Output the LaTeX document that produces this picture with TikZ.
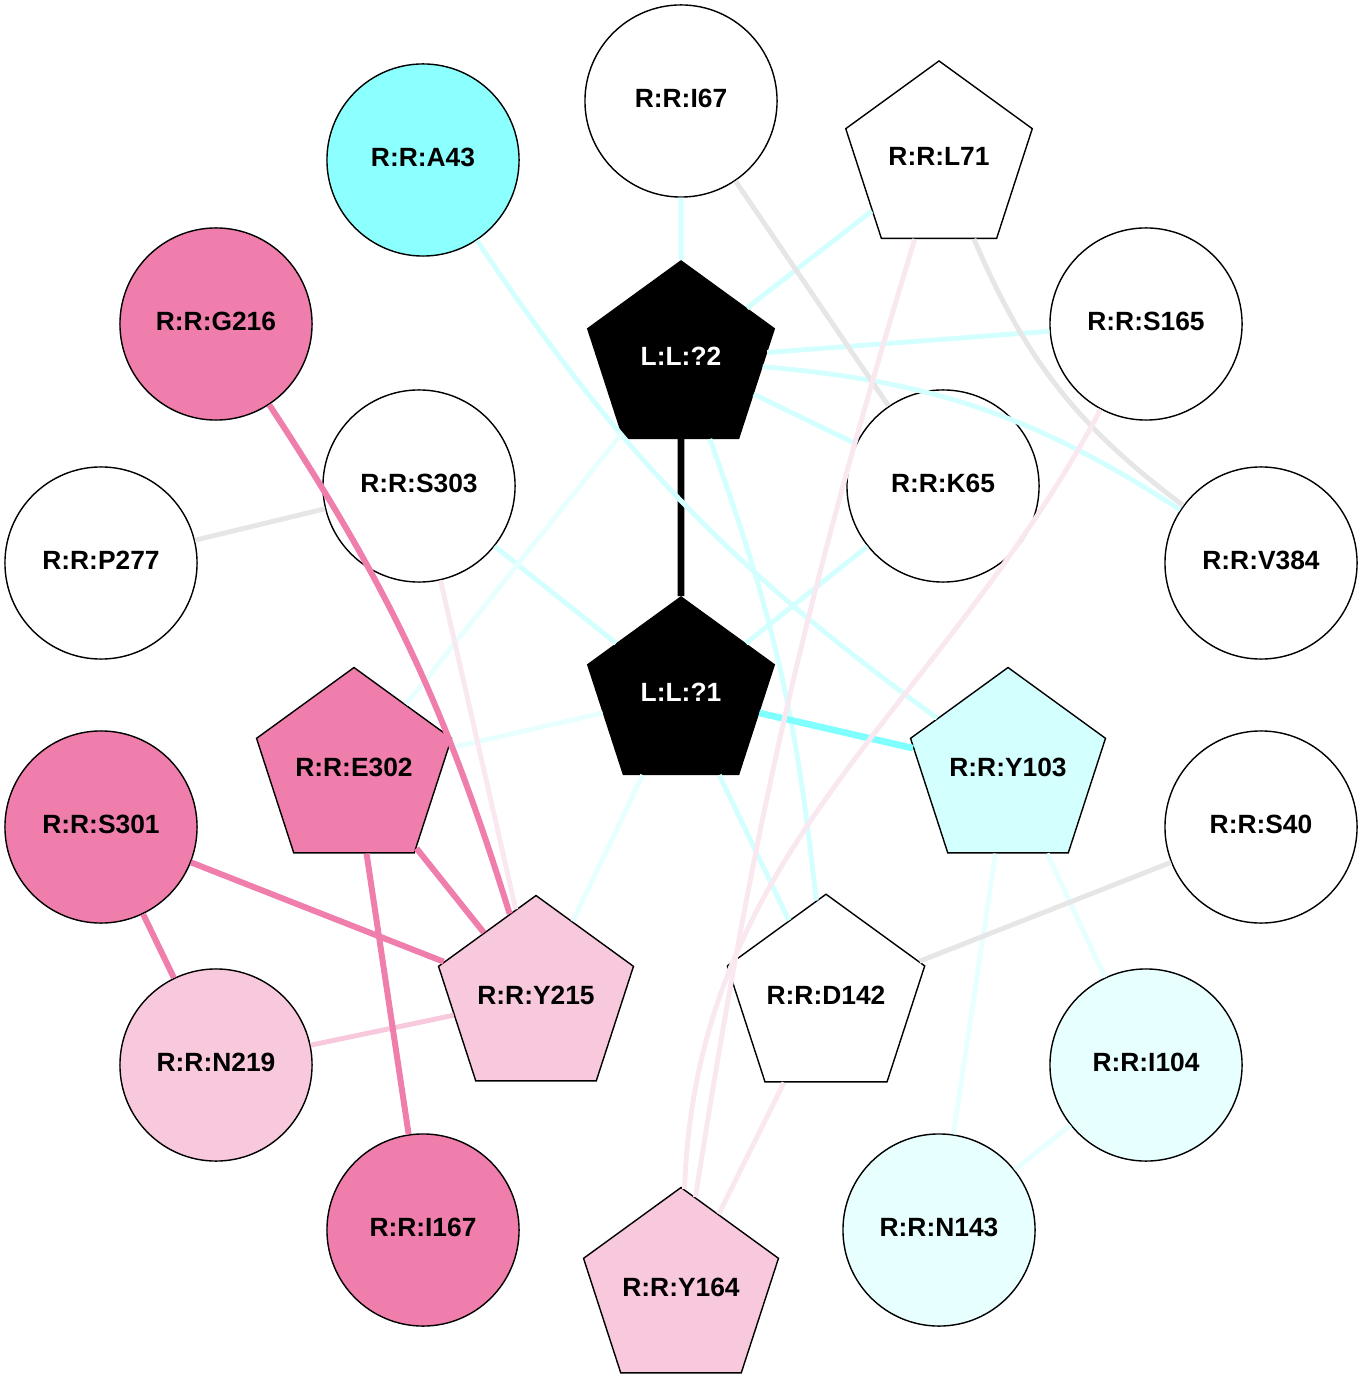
\documentclass[tikz,border=0pt]{standalone}
\usepackage{fontspec}
\setmainfont{Liberation Sans}
\usetikzlibrary{shapes.geometric}
\definecolor{pinkA}{RGB}{240,126,172}
\definecolor{pinkB}{RGB}{248,200,220}
\definecolor{pinkC}{RGB}{250,232,240}
\definecolor{cyanA}{RGB}{140,255,255}
\definecolor{cyanE}{RGB}{128,255,255}
\definecolor{cyanB}{RGB}{212,255,255}
\definecolor{cyanC}{RGB}{232,255,255}
\definecolor{grayE}{RGB}{230,230,230}
\tikzset{
  lbl/.style={font=\fontsize{7.5}{9}\selectfont\bfseries,text depth=1.7pt},
  res/.style={lbl,circle,draw,fill=white,minimum size=1.92cm,inner sep=0pt},
  pent/.style={lbl,regular polygon,regular polygon sides=5,draw,fill=white,minimum size=1.96cm,inner sep=0pt},
  lig/.style={pent,fill=black,text=white},
  eBlack/.style={black,line width=1.9pt},
  eCyanS/.style={cyanE,line width=1.9pt},
  eCyan/.style={cyanB,line width=1.4pt},
  eCyanL/.style={cyanC,line width=1.4pt},
  eGray/.style={grayE,line width=1.4pt},
  ePink/.style={pinkA,line width=1.7pt},
  ePinkM/.style={pinkB,line width=1.4pt},
  ePinkL/.style={pinkC,line width=1.4pt}
}
\begin{document}
\begin{tikzpicture}[x=0.01cm,y=-0.01cm]
\useasboundingbox (0,0) rectangle (1362,1392);
% ligand
\node[lig] (lig2) at (681,359) {L:L:?2};
\node[lig] (lig1) at (681,695) {L:L:?1};
% residues
\node[res] (i67) at (681,101) {R:R:I67};
\node[res,fill=cyanA] (a43) at (423,160) {R:R:A43};
\node[pent] (l71) at (939,159) {R:R:L71};
\node[res,fill=pinkA] (g216) at (216,324) {R:R:G216};
\node[res] (s165) at (1146,324) {R:R:S165};
\node[res] (s303) at (419,486) {R:R:S303};
\node[res] (k65) at (943,486) {R:R:K65};
\node[res] (p277) at (101,563) {R:R:P277};
\node[res] (v384) at (1261,563) {R:R:V384};
\node[pent,fill=pinkA] (e302) at (354,770) {R:R:E302};
\node[pent,fill=cyanB] (y103) at (1008,770) {R:R:Y103};
\node[res,fill=pinkA] (s301) at (101,827) {R:R:S301};
\node[res] (s40) at (1261,827) {R:R:S40};
\node[pent,fill=pinkB] (y215) at (536,998) {R:R:Y215};
\node[pent] (d142) at (826,998) {R:R:D142};
\node[res,fill=pinkB] (n219) at (216,1065) {R:R:N219};
\node[res,fill=cyanC] (i104) at (1146,1065) {R:R:I104};
\node[res,fill=pinkA] (i167) at (423,1230) {R:R:I167};
\node[res,fill=cyanC] (n143) at (939,1230) {R:R:N143};
\node[pent,fill=pinkB] (y164) at (681,1290) {R:R:Y164};
% contacts
\draw[eBlack] (lig2) -- (lig1);
\draw[eCyan] (i67) -- (lig2);
\draw[eCyan] (l71) -- (lig2);
\draw[eCyan] (s165) -- (lig2);
\draw[eCyan] (lig2) -- (k65);
\draw[eCyan] (lig2) to[bend left=14] (v384);
\draw[eCyan] (lig2) to[bend left=7] (d142);
\draw[eCyan] (a43) to[bend right=10] (y103);
\draw[eCyan] (s303) -- (lig1);
\draw[eCyan] (k65) -- (lig1);
\draw[eCyan] (lig1) -- (d142);
\draw[eCyanS] (lig1) -- (y103);
\draw[eCyanL] (lig2) -- (e302);
\draw[eCyanL] (lig1) -- (e302);
\draw[eCyanL] (lig1) -- (y215);
\draw[eCyanL] (y103) -- (n143);
\draw[eCyanL] (y103) -- (i104);
\draw[eCyanL] (i104) -- (n143);
\draw[eGray] (i67) -- (k65);
\draw[eGray] (l71) to[bend right=15] (v384);
\draw[eGray] (p277) -- (s303);
\draw[eGray] (s40) -- (d142);
\draw[ePinkL] (l71) to[bend right=4] (y164);
\draw[ePinkL] (s165) to[out=242,in=88] (y164);
\draw[ePinkL] (d142) -- (y164);
\draw[ePinkL] (s303) -- (y215);
\draw[ePinkM] (n219) -- (y215);
\draw[ePink] (g216) to[bend left=8] (y215);
\draw[ePink] (e302) -- (y215);
\draw[ePink] (e302) -- (i167);
\draw[ePink] (s301) -- (y215);
\draw[ePink] (s301) -- (n219);
\end{tikzpicture}
\end{document}
